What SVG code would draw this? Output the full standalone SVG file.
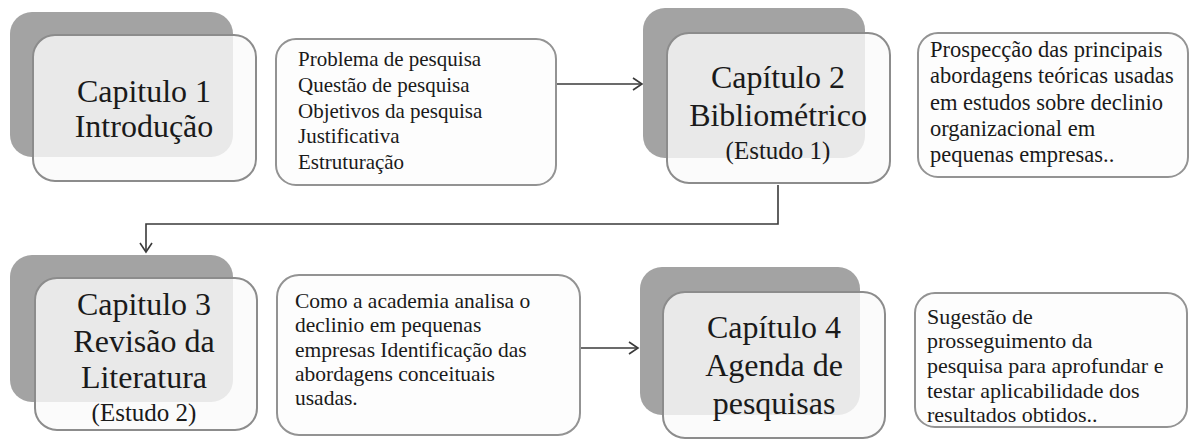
<svg xmlns="http://www.w3.org/2000/svg" width="1190" height="440" viewBox="0 0 1190 440">
<defs>
<style>
.shadow{fill:#a3a3a3;}
.front{fill:#fafafa;fill-opacity:0.8;stroke:#8c8c8c;stroke-width:2;}
.box{fill:#fdfdfd;stroke:#939393;stroke-width:2;}
.big{font-family:"Liberation Serif","Times New Roman",serif;font-size:32px;fill:#1a1a1a;text-anchor:middle;}
.mid{font-family:"Liberation Serif","Times New Roman",serif;font-size:25px;fill:#1a1a1a;text-anchor:middle;}
.txt{font-family:"Liberation Serif","Times New Roman",serif;fill:#1a1a1a;}
.conn{fill:none;stroke:#3a3a3a;stroke-width:1.6;}
</style>
<marker id="arr" markerWidth="14" markerHeight="14" refX="11" refY="7" orient="auto" markerUnits="userSpaceOnUse">
<path d="M2,1 L11,7 L2,13" fill="none" stroke="#3a3a3a" stroke-width="1.6"/>
</marker>
</defs>
<rect width="1190" height="440" fill="#ffffff"/>

<g id="connectors">
<path class="conn" d="M557,84 L642,84" marker-end="url(#arr)"/>
<path class="conn" d="M778,185 L778,224 L146,224 L146,252" marker-end="url(#arr)"/>
<path class="conn" d="M553,348 L638,348" marker-end="url(#arr)"/>
</g>

<g id="cap1">
<rect class="shadow" x="10" y="12" width="223" height="145" rx="22"/>
<rect class="front" x="33" y="35" width="223" height="146" rx="22"/>
<text class="big" x="144" y="102">Capitulo 1</text>
<text class="big" x="144" y="137">Introdução</text>
</g>

<g id="box1">
<rect class="box" x="276" y="39" width="280" height="146" rx="20"/>
<text class="txt" font-size="21">
<tspan x="298" y="66">Problema de pesquisa</tspan>
<tspan x="298" y="92">Questão de pesquisa</tspan>
<tspan x="298" y="118">Objetivos da pesquisa</tspan>
<tspan x="298" y="143">Justificativa</tspan>
<tspan x="298" y="169">Estruturação</tspan>
</text>
</g>

<g id="cap2">
<rect class="shadow" x="643" y="8" width="222" height="150" rx="22"/>
<rect class="front" x="667" y="33" width="223" height="150" rx="22"/>
<text class="big" x="778" y="88">Capítulo 2</text>
<text class="big" x="778" y="126">Bibliométrico</text>
<text class="mid" x="778" y="159">(Estudo 1)</text>
</g>

<g id="box2">
<rect class="box" x="918" y="33" width="270" height="144" rx="20"/>
<text class="txt" font-size="22.5">
<tspan x="930" y="57">Prospecção das principais</tspan>
<tspan x="930" y="83">abordagens teóricas  usadas</tspan>
<tspan x="930" y="110">em estudos sobre declinio</tspan>
<tspan x="930" y="136">organizacional  em</tspan>
<tspan x="930" y="162">pequenas empresas..</tspan>
</text>
</g>

<g id="cap3">
<rect class="shadow" x="10" y="255" width="223" height="147" rx="22"/>
<rect class="front" x="35" y="278" width="222" height="152" rx="22"/>
<text class="big" x="144" y="315">Capitulo 3</text>
<text class="big" x="144" y="352">Revisão da</text>
<text class="big" x="144" y="388">Literatura</text>
<text class="mid" x="144" y="421">(Estudo 2)</text>
</g>

<g id="box3">
<rect class="box" x="277" y="275" width="303" height="160" rx="22"/>
<text class="txt" font-size="21.5">
<tspan x="295" y="308">Como a academia analisa o</tspan>
<tspan x="295" y="332">declinio em pequenas</tspan>
<tspan x="295" y="357">empresas  Identificação das</tspan>
<tspan x="295" y="381">abordagens conceituais</tspan>
<tspan x="295" y="405">usadas.</tspan>
</text>
</g>

<g id="cap4">
<rect class="shadow" x="640" y="267" width="220" height="148" rx="22"/>
<rect class="front" x="663" y="292" width="222" height="146" rx="22"/>
<text class="big" x="774" y="338">Capítulo 4</text>
<text class="big" x="774" y="376">Agenda de</text>
<text class="big" x="774" y="414">pesquisas</text>
</g>

<g id="box4">
<rect class="box" x="915" y="293" width="272" height="134" rx="20"/>
<text class="txt" font-size="22">
<tspan x="927" y="324">Sugestão de</tspan>
<tspan x="927" y="348">prosseguimento da</tspan>
<tspan x="927" y="373">pesquisa para aprofundar e</tspan>
<tspan x="927" y="398">testar aplicabilidade  dos</tspan>
<tspan x="927" y="422">resultados obtidos..</tspan>
</text>
</g>
</svg>
